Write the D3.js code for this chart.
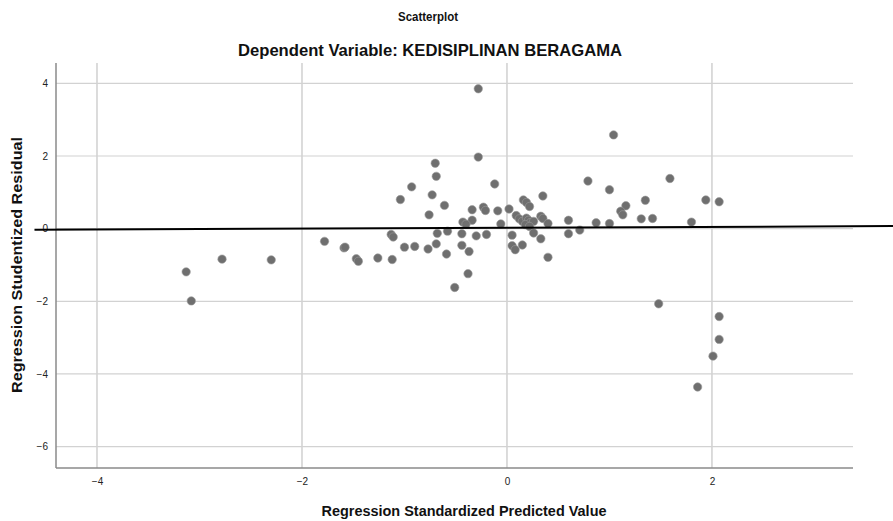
<!DOCTYPE html>
<html><head><meta charset="utf-8">
<script src="https://cdnjs.cloudflare.com/ajax/libs/d3/7.8.5/d3.min.js"></script>
<style>body{margin:0;background:#fff;} svg{display:block;font-family:"Liberation Sans",Arial,sans-serif;}</style>
</head><body>
<svg id="c" width="893" height="521"></svg>
<script>
const chartTitle = "Scatterplot";
const chartSubtitle = "Dependent Variable: KEDISIPLINAN BERAGAMA";
const xAxisTitle = "Regression Standardized Predicted Value";
const yAxisTitle = "Regression Studentized Residual";
const xTicks = [-4, -2, 0, 2];
const yTicks = [4, 2, 0, -2, -4, -6];
const predicted = [-3.13,-3.08,-2.78,-2.30,-1.78,-1.59,-1.58,-1.47,-1.45,-1.26,-1.12,-1.13,-1.11,-1.00,-0.90,-0.77,-0.76,-1.04,-0.70,-0.69,-0.93,-0.73,-0.61,-0.28,-0.28,-0.12,0.35,-0.34,-0.23,-0.21,-0.09,0.02,0.16,0.19,0.22,-0.34,-0.43,-0.40,-0.06,0.09,0.12,0.15,0.19,0.21,0.23,0.26,0.18,0.22,0.33,0.35,0.40,0.26,0.33,0.40,-0.68,-0.58,-0.44,-0.30,-0.20,0.05,-0.69,-0.59,-0.44,-0.37,0.05,0.08,0.15,-0.38,-0.51,0.60,0.60,1.04,0.79,1.59,1.00,1.35,1.16,1.11,1.13,1.94,2.07,1.31,1.42,1.80,0.87,1.00,0.71,1.48,2.07,2.07,2.01,1.86];
const residual = [-1.19,-1.99,-0.84,-0.86,-0.35,-0.53,-0.51,-0.83,-0.90,-0.81,-0.85,-0.16,-0.23,-0.51,-0.49,-0.56,0.38,0.80,1.80,1.44,1.15,0.93,0.64,1.97,3.85,1.23,0.90,0.52,0.59,0.50,0.49,0.54,0.79,0.72,0.61,0.23,0.18,0.12,0.13,0.36,0.27,0.20,0.29,0.23,0.17,0.20,0.11,0.06,0.34,0.28,0.14,-0.12,-0.28,-0.79,-0.13,-0.07,-0.14,-0.20,-0.16,-0.18,-0.42,-0.70,-0.46,-0.63,-0.47,-0.58,-0.45,-1.24,-1.62,0.23,-0.14,2.58,1.31,1.38,1.07,0.78,0.63,0.48,0.38,0.79,0.74,0.27,0.28,0.18,0.16,0.14,-0.04,-2.07,-2.42,-3.05,-3.51,-4.36];
const refLineX = [-4.61, 3.77];
const refLineY = [-0.03, 0.07];

const svg = d3.select("#c");
const plot = {left: 56, right: 853, top: 63, bottom: 468};
const x = d3.scaleLinear().domain([-4.4, 3.376]).range([plot.left, plot.right]);
const y = d3.scaleLinear().domain([-6.59, 4.56]).range([plot.bottom, plot.top]);

// gridlines
svg.append("g").selectAll("line").data(xTicks).join("line")
  .attr("x1", d => x(d)).attr("x2", d => x(d)).attr("y1", plot.top).attr("y2", plot.bottom)
  .attr("stroke", "#c4c4c4").attr("stroke-width", 1.2);
svg.append("g").selectAll("line").data(yTicks).join("line")
  .attr("x1", plot.left).attr("x2", plot.right).attr("y1", d => y(d)).attr("y2", d => y(d))
  .attr("stroke", "#d2d2d2").attr("stroke-width", 1.2);

// axes
const xAxis = d3.axisBottom(x).tickValues(xTicks).tickSize(0).tickPadding(10).tickFormat(d3.format("d"));
const yAxis = d3.axisLeft(y).tickValues(yTicks).tickSize(0).tickPadding(8).tickFormat(d3.format("d"));
const gx = svg.append("g").attr("transform", `translate(0,${plot.bottom})`).call(xAxis);
const gy = svg.append("g").attr("transform", `translate(${plot.left},0)`).call(yAxis);
[gx, gy].forEach(g => {
  g.select(".domain").attr("stroke", "#8a8a8a").attr("stroke-width", 1.5);
  g.selectAll("text").attr("font-size", 10).attr("fill", "#222");
});
gy.select(".domain").attr("d", `M0,${plot.top}V${plot.bottom}`);
gx.select(".domain").attr("d", `M${plot.left},0H${plot.right}`);

// points
svg.append("g").selectAll("circle").data(predicted.map((p, i) => [p, residual[i]])).join("circle")
  .attr("cx", d => x(d[0])).attr("cy", d => y(d[1])).attr("r", 4.2)
  .attr("fill", "#6f6f6f").attr("stroke", "#9a9a9a").attr("stroke-width", 0.6);

// reference line
svg.append("line")
  .attr("x1", x(refLineX[0])).attr("y1", y(refLineY[0]))
  .attr("x2", x(refLineX[1])).attr("y2", y(refLineY[1]))
  .attr("stroke", "#000").attr("stroke-width", 2);

// titles
svg.append("text").attr("x", 428).attr("y", 21).attr("text-anchor", "middle")
  .attr("font-size", 13).attr("font-weight", "bold").attr("fill", "#111")
  .attr("textLength", 60).attr("lengthAdjust", "spacingAndGlyphs").text(chartTitle);
svg.append("text").attr("x", 430).attr("y", 56).attr("text-anchor", "middle")
  .attr("font-size", 17).attr("font-weight", "bold").attr("fill", "#111")
  .attr("textLength", 384).attr("lengthAdjust", "spacingAndGlyphs").text(chartSubtitle);
svg.append("text").attr("x", 464).attr("y", 516).attr("text-anchor", "middle")
  .attr("font-size", 14.5).attr("font-weight", "bold").attr("fill", "#111")
  .attr("textLength", 285).attr("lengthAdjust", "spacingAndGlyphs").text(xAxisTitle);
svg.append("text").attr("transform", "translate(22,265) rotate(-90)").attr("text-anchor", "middle")
  .attr("font-size", 14.5).attr("font-weight", "bold").attr("fill", "#111")
  .attr("textLength", 256).attr("lengthAdjust", "spacingAndGlyphs").text(yAxisTitle);
</script>
</body></html>
